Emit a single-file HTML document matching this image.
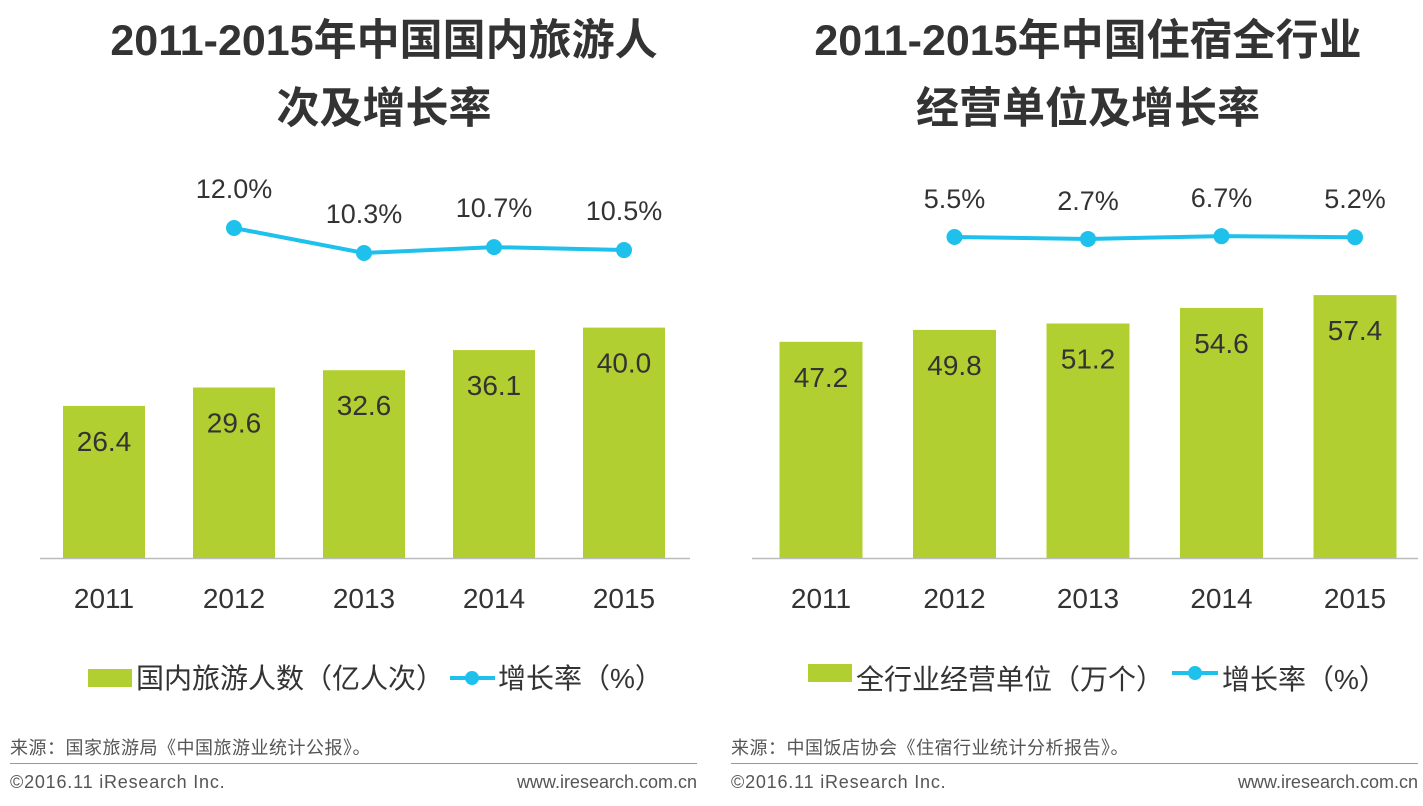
<!DOCTYPE html>
<html><head><meta charset="utf-8">
<style>
body{margin:0;width:1423px;height:801px;background:#fff;overflow:hidden;font-family:"Liberation Sans","Noto Sans CJK SC",sans-serif;}
svg text{font-family:"Liberation Sans","Noto Sans CJK SC",sans-serif;}
</style></head><body>
<svg id="s" width="1423" height="801">
<g font-size="43" font-weight="bold" fill="#333" text-anchor="middle">
<text x="384" y="55">2011-2015年中国国内旅游人</text>
<text x="384" y="123">次及增长率</text></g>
<g font-size="43" font-weight="bold" fill="#333" text-anchor="middle">
<text x="1088" y="55">2011-2015年中国住宿全行业</text>
<text x="1088" y="123">经营单位及增长率</text></g>
<line x1="40" y1="558.5" x2="690" y2="558.5" stroke="#bbb" stroke-width="1.5"/>
<line x1="752" y1="558.5" x2="1418" y2="558.5" stroke="#bbb" stroke-width="1.5"/>
<g id="L"></g><g id="R"></g>
<g font-size="28" fill="#333">
<rect x="88" y="669" width="44" height="18" fill="#b1cf30"/>
<text x="136" y="688">国内旅游人数（亿人次）</text>
<line x1="450" y1="678" x2="495" y2="678" stroke="#1ec1ec" stroke-width="4"/>
<circle cx="472" cy="678" r="7" fill="#1ec1ec"/>
<text x="498" y="688">增长率（%）</text></g>
<g font-size="28" fill="#333">
<rect x="808" y="664" width="44" height="18" fill="#b1cf30"/>
<text x="856" y="689">全行业经营单位（万个）</text>
<line x1="1172" y1="673" x2="1218" y2="673" stroke="#1ec1ec" stroke-width="4"/>
<circle cx="1195" cy="673" r="7" fill="#1ec1ec"/>
<text x="1222" y="689">增长率（%）</text></g>
<g font-size="18" fill="#555">
<text x="10" y="754" letter-spacing="0.5">来源：国家旅游局《中国旅游业统计公报》。</text>
<text x="731" y="754" letter-spacing="0.5">来源：中国饭店协会《住宿行业统计分析报告》。</text>
<text x="10" y="788" letter-spacing="0.8">©2016.11 iResearch Inc.</text>
<text x="697" y="788" text-anchor="end">www.iresearch.com.cn</text>
<text x="731" y="788" letter-spacing="0.8">©2016.11 iResearch Inc.</text>
<text x="1418" y="788" text-anchor="end">www.iresearch.com.cn</text></g>
<line x1="10" y1="763.5" x2="697" y2="763.5" stroke="#999"/>
<line x1="731" y1="763.5" x2="1418" y2="763.5" stroke="#999"/>
</svg>
<script>
const years=["2011","2012","2013","2014","2015"];
const leftBars=[26.4,29.6,32.6,36.1,40.0];
const leftRate=[null,12.0,10.3,10.7,10.5];
const rightBars=[47.2,49.8,51.2,54.6,57.4];
const rightRate=[null,5.5,2.7,6.7,5.2];
const NS="http://www.w3.org/2000/svg";
function mk(p,t,a){const e=document.createElementNS(NS,t);for(const k in a)e.setAttribute(k,a[k]);p.appendChild(e);return e;}
function draw(g,cfg){
  const xs=i=>cfg.x0+i*cfg.step, yb=v=>558-v*cfg.bs, yl=v=>cfg.ly0+(cfg.lref-v)*cfg.ls;
  cfg.bars.forEach((v,i)=>{
    const r=mk(g,'rect',{x:xs(i)-cfg.bw/2,y:yb(v),width:cfg.bw,height:v*cfg.bs,fill:'#b1cf30'});
    
    
    const t=mk(g,'text',{x:xs(i),y:yb(v)+45,'text-anchor':'middle','font-size':28,fill:'#333'});t.textContent=v.toFixed(1);
    
    
    const y=mk(g,'text',{x:xs(i),y:608,'text-anchor':'middle','font-size':28,fill:'#333'});y.textContent=years[i];
    
    
  });
  const pts=[];cfg.rate.forEach((v,i)=>{if(v!==null)pts.push([xs(i),yl(v),v,i]);});
  const pl=mk(g,'polyline',{points:pts.map(p=>p[0]+','+p[1]).join(' '),fill:'none',stroke:'#1ec1ec','stroke-width':4});
  
  
  pts.forEach(p=>{
    const c=mk(g,'circle',{cx:p[0],cy:p[1],r:8,fill:'#1ec1ec'});
    
    
    const t=mk(g,'text',{x:p[0],y:cfg.labY(p[1]),'text-anchor':'middle','font-size':27,fill:'#333'});t.textContent=p[2].toFixed(1)+'%';
    
    
  });
}
draw(document.getElementById('L'),{x0:104,step:130,bw:82,bs:5.76,bars:leftBars,rate:leftRate,ly0:228,lref:12,ls:14.7,labY:y=>y-30});
draw(document.getElementById('R'),{x0:821,step:133.5,bw:83,bs:4.58,bars:rightBars,rate:rightRate,ly0:237,lref:5.5,ls:0.7,labY:y=>y-29});
</script>
</body></html>
